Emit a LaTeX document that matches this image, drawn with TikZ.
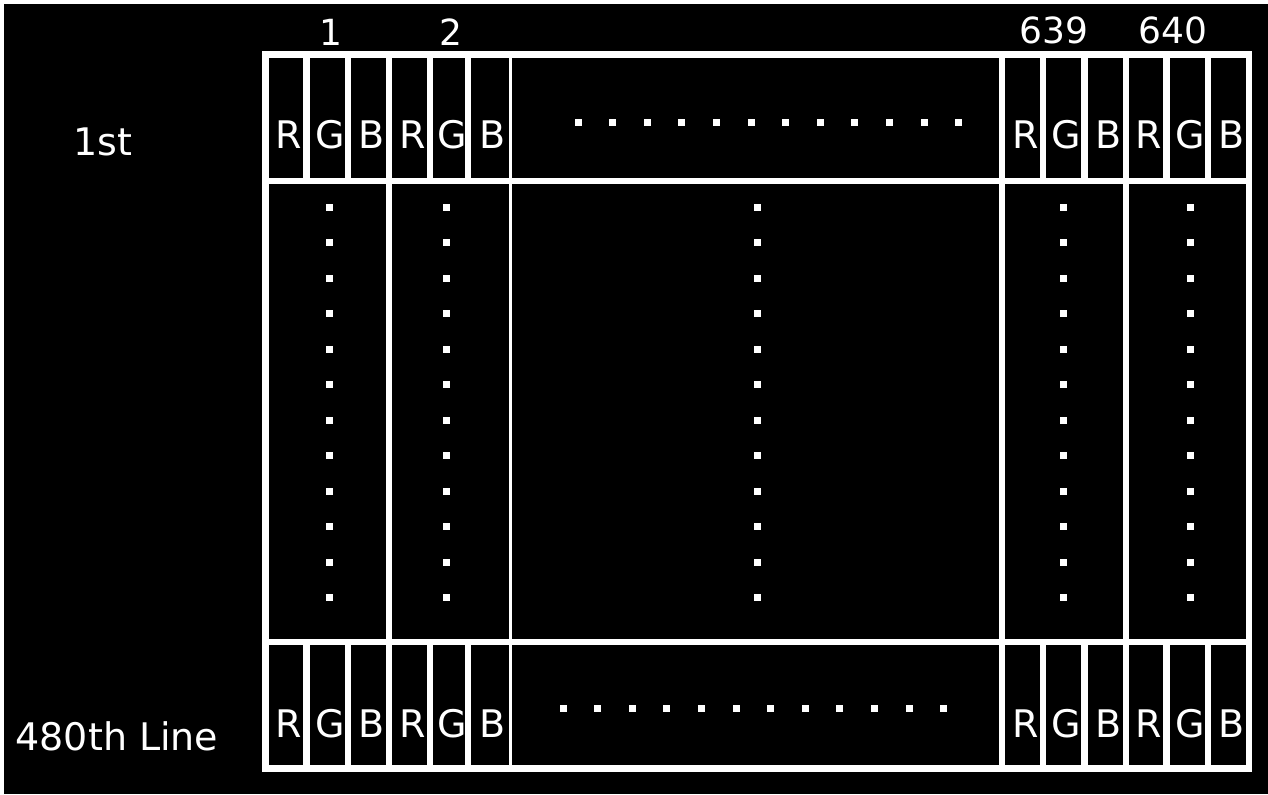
\documentclass[tikz,border=0pt]{standalone}
\usepackage{fontspec}
\setmainfont{DejaVu Sans}
\usetikzlibrary{positioning}

\begin{document}
\begin{tikzpicture}[x=0.5pt, y=-0.5pt,
  letter/.style={text=white, font=\fontsize{19pt}{22pt}\selectfont, inner sep=0pt, anchor=base},
  colnum/.style={text=white, font=\fontsize{18pt}{21pt}\selectfont, inner sep=0pt, anchor=base},
  dot/.style={fill=white, inner sep=0pt, minimum width=3.5pt, minimum height=3.5pt}]
  \useasboundingbox (0,0) rectangle (1268,794);
  \fill[black] (4,4) rectangle (1268,794);
  \fill[white] (262,51) rectangle (1252,772);

  % first and last line: one cell per sub-pixel
  \foreach \xa/\xb/\ch [count=\i] in {269/303/R, 310/345/G, 351/386/B, 392/427/R, 433/465/G, 471/509/B,
      1005/1040/R, 1046/1081/G, 1088/1123/B, 1129/1163/R, 1170/1205/G, 1211/1246/B} {
    \fill[black] (\xa,58) rectangle (\xb,178);
    \fill[black] (\xa,645) rectangle (\xb,765);
    \node[letter] (top\i) at ({(\xa+\xb)/2+3},148) {\ch};
    \node[letter] (bot\i) at ({(\xa+\xb)/2+3},737) {\ch};
  }
  \fill[black] (512,58) rectangle (999,178);
  \fill[black] (512,645) rectangle (999,765);

  % lines in between: one cell per pixel
  \foreach \xa/\xb in {269/386, 392/509, 512/999, 1005/1123, 1129/1246}
    \fill[black] (\xa,184) rectangle (\xb,639);

  % dots
  \foreach \i in {0,...,11} {
    \node[dot] (dt\i) at (578+34.6*\i,122) {};
    \node[dot] (db\i) at (563+34.6*\i,708) {};
    \foreach \cx [count=\k] in {329,446,757,1063,1190}
      \node[dot] (dv\k-\i) at (\cx,207+35.5*\i) {};
  }

  \node[colnum] (n1) at (331,45) {1};
  \node[colnum] (n2) at (451,45) {2};
  \node[colnum] (n639) at (1054,43) {639};
  \node[colnum] (n640) at (1173,43) {640};
  \node[letter] (first) at (103,155) {1st};
  \node[letter] (last) at (117,750) {480th Line};
\end{tikzpicture}
\end{document}
